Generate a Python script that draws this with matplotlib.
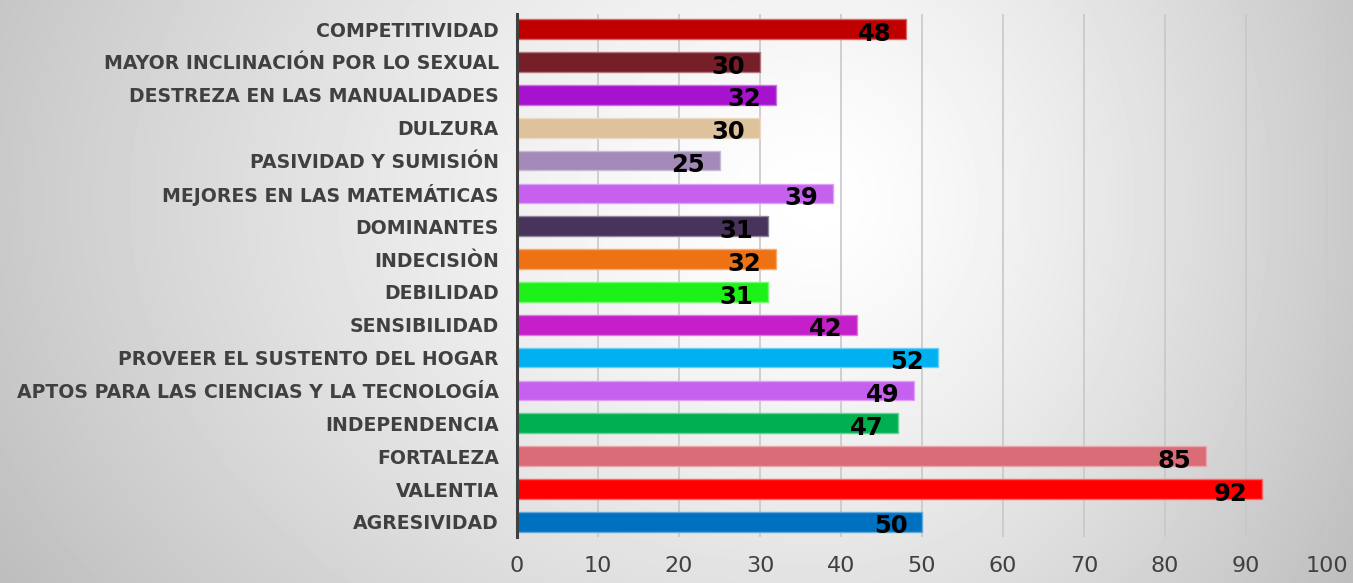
import numpy as np
import matplotlib
matplotlib.use("Agg")
import matplotlib.pyplot as plt
from matplotlib.colors import to_rgb

# ── data (bottom to top) ─────────────────────────────────────────────────────
categories = [
    "AGRESIVIDAD", "VALENTIA", "FORTALEZA", "INDEPENDENCIA",
    "APTOS PARA LAS CIENCIAS Y LA TECNOLOGÍA", "PROVEER EL SUSTENTO DEL HOGAR",
    "SENSIBILIDAD", "DEBILIDAD", "INDECISIÒN", "DOMINANTES",
    "MEJORES EN LAS MATEMÁTICAS", "PASIVIDAD Y SUMISIÓN", "DULZURA",
    "DESTREZA EN LAS MANUALIDADES", "MAYOR INCLINACIÓN POR LO SEXUAL",
    "COMPETITIVIDAD",
]
values = [50, 92, 85, 47, 49, 52, 42, 31, 32, 31, 39, 25, 30, 32, 30, 48]
colors = [
    "#0070C0", "#FF0000", "#DA6C77", "#00B050", "#C660EE", "#00B0F0",
    "#C41FC8", "#1EF01A", "#EE7214", "#48345A", "#C660EE", "#A38AB8",
    "#DDC29C", "#A612CE", "#771F28", "#C00000",
]
xticks = list(range(0, 101, 10))

W, H = 1353, 583
fig = plt.figure(figsize=(W / 100, H / 100), dpi=100)

# ── background gradient ──────────────────────────────────────────────────────
bg = fig.add_axes([0, 0, 1, 1], zorder=-10)
yy, xx = np.mgrid[0:H, 0:W]
cx, cy = 820.0, 200.0
sx = np.where(xx < cx, cx, W - cx)
sy = 620.0
t = np.sqrt(((xx - cx) / sx) ** 2 + ((yy - cy) / sy) ** 2)
shade = 1 - 0.21 * np.clip(t, 0, 1.3) ** 1.3
bg.imshow(shade, cmap="gray", vmin=0, vmax=1, aspect="auto", interpolation="bilinear")
bg.axis("off")

# ── bars ─────────────────────────────────────────────────────────────────────
ax = fig.add_axes([517 / W, 1 - 537 / H, (1327 - 517) / W, (537 - 14) / H])
ax.patch.set_alpha(0)
y = np.arange(len(categories))
edges = [tuple(0.6 * c + 0.4 for c in to_rgb(col)) for col in colors]
ax.barh(y, values, height=0.6, color=colors, edgecolor=edges, linewidth=1, zorder=3)

for yi, v in zip(y, values):
    ax.text(v - 1.8, yi - 0.14, str(v), ha="right", va="center",
            fontsize=17.5, fontweight="bold", color="black", zorder=4)

ax.set_xlim(0, 100)
ax.set_ylim(-0.46, len(categories) - 0.54)
ax.set_xticks(xticks)
ax.set_yticks(y)
ax.set_yticklabels(categories, fontsize=13.6, fontweight="bold", color="#404040")
ax.tick_params(axis="y", length=0, pad=13)
ax.tick_params(axis="x", length=0, pad=14, labelsize=16, labelcolor="#404040")
ax.grid(axis="x", color="#c8c8c8", linewidth=1.2, zorder=0)

for s in ["top", "right", "bottom"]:
    ax.spines[s].set_visible(False)
ax.spines["left"].set_color("#404040")
ax.spines["left"].set_linewidth(2.2)
ax.spines["left"].set_zorder(5)

fig.savefig("out.png", dpi=100)
